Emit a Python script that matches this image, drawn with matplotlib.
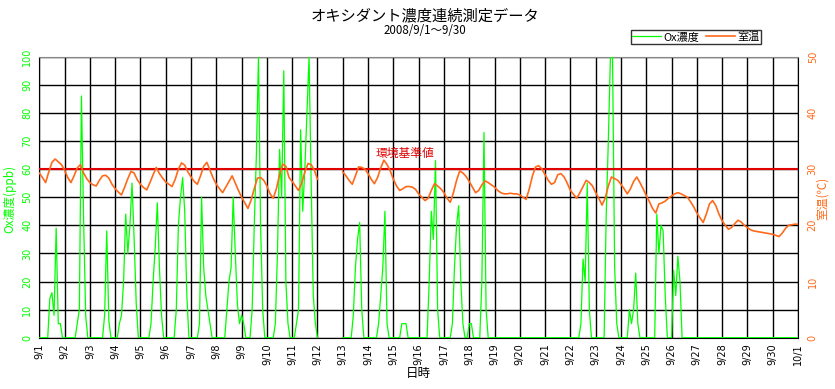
import numpy as np
import matplotlib
matplotlib.use("Agg")
import matplotlib.pyplot as plt

plt.rcParams['font.family'] = ['Noto Sans CJK JP', 'DejaVu Sans']

nan = np.nan

# ---- data ----
title = "オキシダント濃度連続測定データ"
subtitle = "2008/9/1～9/30"
x_labels = [f"9/{d}" for d in range(1, 31)] + ["10/1"]
standard_ppb = 60  # 環境基準値

# room temperature (°C), every 3 hours from 9/1 00:00 (8 per day), last = 10/1 00:00
temp = [
    29.3, 28.5, 27.6, 29.5, 31.2, 31.8, 31.3, 30.8,
    29.8, 28.5, 27.6, 28.8, 30.2, 30.8, 29.3, 28.3,
    27.6, 27.2, 27.0, 28.0, 28.8, 28.9, 28.4, 27.3,
    26.5, 25.9, 25.4, 26.8, 28.3, 29.6, 29.3, 28.1,
    27.3, 26.7, 26.3, 27.6, 29.0, 30.3, 29.2, 28.4,
    27.7, 27.3, 26.9, 28.2, 30.0, 31.1, 30.7, 29.5,
    28.6, 27.8, 27.3, 28.8, 30.5, 31.2, 29.8, 28.4,
    27.3, 26.5, 25.8, 26.8, 27.8, 28.8, 27.5, 26.2,
    25.0, 24.0, 23.0, 24.5, 26.5, 28.4, 28.5, 28.0,
    27.0, 25.6, 24.8, 26.5, 29.0, 30.9, 30.5, 28.5,
    27.8, 27.0, 26.2, 27.5, 29.5, 31.0, 30.8, 29.8,
    28.2, nan, nan, nan, nan, nan, nan, nan,
    29.5, 28.8, 28.0, 27.3, 28.8, 30.4, 30.3, 30.0,
    29.2, 28.2, 27.4, 28.5, 30.2, 31.6, 30.8, 29.7,
    28.2, 27.0, 26.2, 26.5, 26.9, 26.9, 26.8, 26.4,
    25.6, 25.0, 24.4, 24.8, 26.2, 27.4, 27.0, 26.5,
    25.8, 24.8, 24.1, 25.8, 28.0, 29.7, 29.3, 28.7,
    27.8, 26.8, 25.8, 26.2, 27.2, 27.9, 27.6, 27.2,
    26.8, 26.2, 25.8, 25.6, 25.6, 25.7, 25.6, 25.6,
    25.4, 25.0, 24.6, 26.5, 28.8, 30.4, 30.6, 30.0,
    29.0, 28.0, 27.3, 27.6, 29.0, 29.2, 28.6, 27.5,
    26.2, 25.5, 24.8, 25.8, 26.9, 28.0, 27.6, 27.0,
    25.8, 24.8, 23.6, 24.8, 27.0, 28.6, 28.3, 28.0,
    27.3, 26.5, 25.6, 26.5, 27.8, 28.6, 27.6, 26.5,
    25.3, 24.2, 23.0, 22.2, 23.8, 24.0, 24.3, 24.8,
    25.2, 25.6, 25.8, 25.6, 25.3, 25.0, 24.2, 23.3,
    22.2, 21.3, 20.5, 22.0, 23.8, 24.4, 23.5, 22.0,
    20.8, 20.0, 19.3, 19.6, 20.3, 20.9, 20.6, 20.0,
    19.6, 19.2, 19.0, 18.9, 18.8, 18.7, 18.6, 18.5,
    18.4, 18.2, 18.0, 18.6, 19.4, 20.0, 20.1, 20.2,
    20.2,
]

# Ox concentration (ppb), every 2 hours from 9/1 00:00 (12 per day), last = 10/1 00:00
ox = [
    0, 0, 0, 0, 0, 14, 16, 8, 39, 5, 5, 0,
    0, 0, 0, 0, 0, 0, 5, 10, 86, 43, 8, 0,
    0, 0, 0, 0, 0, 0, 0, 8, 38, 6, 0, 0,
    0, 0, 5, 8, 20, 44, 30, 40, 55, 35, 12, 0,
    0, 0, 0, 0, 0, 5, 20, 32, 48, 25, 8, 0,
    0, 0, 0, 0, 0, 10, 40, 50, 57, 45, 15, 0,
    0, 0, 0, 0, 5, 50, 25, 15, 10, 5, 0, 0,
    0, 0, 0, 0, 0, 10, 20, 25, 50, 30, 12, 5,
    8, 5, 0, 0, 0, 10, 40, 65, 100, 40, 10, 0,
    0, 0, 0, 0, 5, 30, 67, 50, 95, 20, 5, 0,
    0, 0, 5, 10, 74, 45, 60, 80, 100, 55, 15, 5,
    0, nan, nan, nan, nan, nan, nan, nan, nan, nan, nan, nan,
    0, 0, 0, 0, 0, 8, 25, 35, 41, 10, 0, 0,
    0, 0, 0, 0, 0, 5, 15, 25, 45, 5, 0, 0,
    0, 0, 0, 0, 5, 5, 5, 0, 0, 0, 0, 0,
    0, 0, 0, 0, 0, 20, 45, 35, 63, 10, 0, 0,
    0, 0, 0, 0, 5, 25, 40, 47, 20, 5, 0, 0,
    5, 5, 0, 0, 0, 0, 20, 73, 10, 0, 0, 0,
    0, 0, 0, 0, 0, 0, 0, 0, 0, 0, 0, 0,
    0, 0, 0, 0, 0, 0, 0, 0, 0, 0, 0, 0,
    0, 0, 0, 0, 0, 0, 0, 0, 0, 0, 0, 0,
    0, 0, 0, 0, 0, 5, 28, 20, 55, 10, 0, 0,
    0, 0, 0, 0, 0, 44, 70, 100, 100, 25, 5, 0,
    0, 0, 0, 0, 10, 5, 10, 23, 5, 0, 0, 0,
    0, 0, 0, 0, 0, 44, 30, 40, 38, 15, 0, 0,
    0, 24, 15, 29, 20, 0, 0, 0, 0, 0, 0, 0,
    0, 0, 0, 0, 0, 0, 0, 0, 0, 0, 0, 0,
    0, 0, 0, 0, 0, 0, 0, 0, 0, 0, 0, 0,
    0, 0, 0, 0, 0, 0, 0, 0, 0, 0, 0, 0,
    0, 0, 0, 0, 0, 0, 0, 0, 0, 0, 0, 0,
    0,
]

t_temp = np.arange(len(temp)) / 8.0
t_ox = np.arange(len(ox)) / 12.0

GREEN = '#00FF00'
ORANGE = '#FF6A1A'
RED = '#E00000'

fig = plt.figure(figsize=(8.35, 3.89), dpi=100)
ax = fig.add_axes([39.3 / 835, 1 - 337.7 / 389, (798 - 39.3) / 835, (337.7 - 56.7) / 389])
ax.set_xlim(0, 30)
ax.set_ylim(0, 100)
ax.set_xticks(range(31))
ax.set_xticklabels(x_labels, rotation=90, fontsize=7, family='DejaVu Sans')
ax.set_yticks(range(0, 101, 10))
ax.set_yticklabels([str(v) for v in range(0, 101, 10)], rotation=90, fontsize=7,
                   color=GREEN, va='center', family='DejaVu Sans')
ax.tick_params(axis='x', length=0, pad=4)
ax.tick_params(axis='y', length=0, pad=5)
ax.grid(True, color='black', linewidth=1.0)
ax.set_axisbelow(True)
for s in ['left', 'bottom', 'right']:
    ax.spines[s].set_color('black')
ax.spines['top'].set_color('#888888')

l1, = ax.plot(t_ox, ox, color=GREEN, linewidth=0.9, label='Ox濃度', zorder=3)
ax.axhline(standard_ppb, color=RED, linewidth=1.5, zorder=4)
ax.text(14.45, 65.7, '環境基準値', color=RED, fontsize=8.5, ha='center', va='center', zorder=6)

ax2 = ax.twinx()
ax2.set_ylim(0, 50)
ax2.set_yticks(range(0, 51, 10))
ax2.set_yticklabels([str(v) for v in range(0, 51, 10)], rotation=90, fontsize=7,
                    color=ORANGE, va='center', family='DejaVu Sans')
ax2.tick_params(axis='y', length=0, pad=7)
for s in ax2.spines.values():
    s.set_visible(False)
l2, = ax2.plot(t_temp, temp, color=ORANGE, linewidth=1.2, label='室温', zorder=5)

fig.text(425 / 835, 1 - 16 / 389, title, ha='center', va='center', fontsize=11)
fig.text(425 / 835, 1 - 31 / 389, subtitle, ha='center', va='center', fontsize=8.3)
fig.text(418 / 835, 1 - 373 / 389, '日時', ha='center', va='center', fontsize=9)
fig.text(10 / 835, 1 - 199 / 389, 'Ox濃度(ppb)', ha='center', va='center',
         rotation=90, fontsize=8.5, color=GREEN)
fig.text(822 / 835, 1 - 198 / 389, '室温(℃)', ha='center', va='center',
         rotation=90, fontsize=8.5, color=ORANGE)

leg = fig.legend(handles=[l1, l2], loc='upper right', bbox_to_anchor=(761 / 835, 1 - 30 / 389),
                 ncol=2, fontsize=8, frameon=True, fancybox=False, edgecolor='black',
                 handlelength=2.6, handletextpad=0.2, columnspacing=0.6,
                 borderpad=0.15, borderaxespad=0)
leg.get_frame().set_linewidth(1.0)

fig.savefig('out.png', dpi=100, facecolor='white')
